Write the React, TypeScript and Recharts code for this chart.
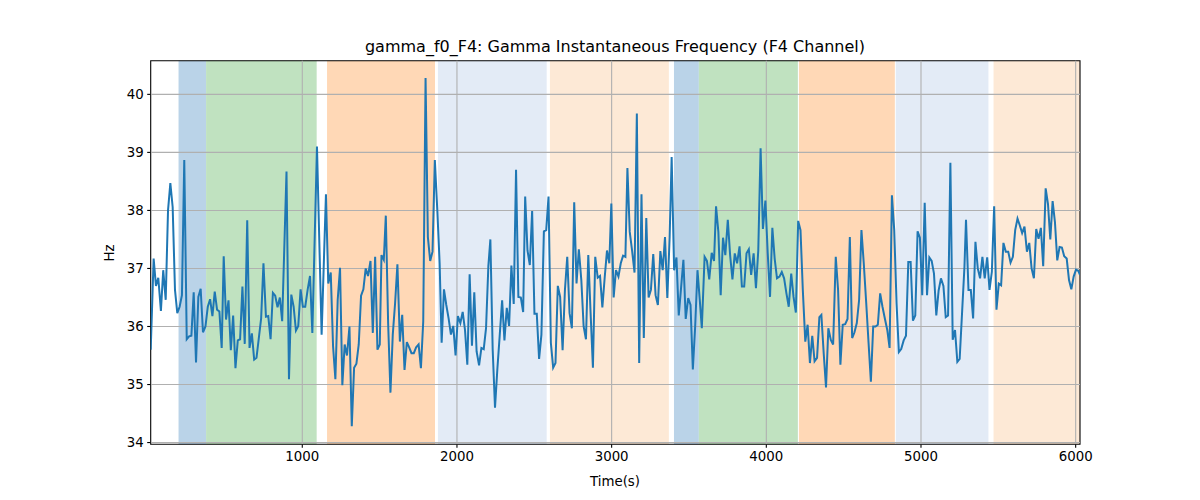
import React from 'react';
import { LineChart, Line, XAxis, YAxis, ReferenceArea, ReferenceLine } from 'recharts';

const times = [
  20, 39, 54, 69, 86, 101, 117, 132, 147, 162, 177, 192, 207, 222, 237, 253, 268, 283, 298, 313,
  328, 343, 358, 374, 389, 404, 419, 434, 449, 464, 479, 492, 507, 523, 538, 553, 568, 583, 598, 613,
  628, 644, 659, 674, 689, 704, 719, 734, 749, 765, 780, 795, 810, 825, 840, 855, 870, 898, 914, 929,
  944, 959, 974, 989, 1004, 1019, 1035, 1050, 1065, 1095, 1125, 1153, 1168, 1184, 1199, 1214, 1229, 1244, 1259, 1274,
  1289, 1305, 1320, 1335, 1350, 1365, 1380, 1395, 1410, 1425, 1441, 1456, 1471, 1486, 1501, 1512, 1527, 1540, 1555, 1570,
  1585, 1600, 1615, 1631, 1646, 1661, 1676, 1691, 1706, 1721, 1736, 1752, 1767, 1782, 1797, 1812, 1827, 1842, 1857, 1873,
  1888, 1901, 1916, 1931, 1946, 1961, 1976, 1991, 2006, 2022, 2037, 2052, 2067, 2082, 2097, 2112, 2127, 2143, 2158, 2173,
  2188, 2203, 2216, 2231, 2246, 2261, 2276, 2292, 2307, 2322, 2337, 2352, 2367, 2382, 2397, 2413, 2428, 2441, 2456, 2471,
  2486, 2501, 2516, 2531, 2546, 2562, 2577, 2592, 2607, 2622, 2637, 2652, 2667, 2683, 2698, 2713, 2728, 2743, 2758, 2773,
  2788, 2804, 2819, 2834, 2849, 2864, 2879, 2894, 2910, 2925, 2940, 2955, 2970, 2985, 2998, 3013, 3028, 3044, 3059, 3074,
  3089, 3102, 3117, 3132, 3148, 3163, 3178, 3193, 3208, 3224, 3239, 3254, 3269, 3284, 3299, 3315, 3330, 3345, 3360, 3375,
  3388, 3404, 3419, 3434, 3449, 3464, 3479, 3495, 3510, 3525, 3540, 3555, 3570, 3583, 3601, 3616, 3631, 3647, 3662, 3675,
  3690, 3705, 3720, 3735, 3751, 3766, 3781, 3796, 3811, 3827, 3842, 3857, 3872, 3887, 3902, 3918, 3933, 3948, 3963, 3978,
  3994, 4009, 4024, 4039, 4054, 4069, 4085, 4100, 4115, 4130, 4145, 4161, 4176, 4191, 4206, 4221, 4236, 4252, 4267, 4282,
  4297, 4312, 4328, 4343, 4356, 4371, 4386, 4401, 4417, 4432, 4449, 4464, 4479, 4494, 4510, 4525, 4540, 4555, 4570, 4585,
  4600, 4615, 4630, 4646, 4661, 4676, 4691, 4706, 4721, 4736, 4751, 4767, 4782, 4797, 4812, 4827, 4842, 4857, 4872, 4888,
  4903, 4918, 4933, 4948, 4963, 4978, 4993, 5008, 5024, 5039, 5054, 5069, 5084, 5099, 5114, 5129, 5145, 5160, 5175, 5190,
  5205, 5220, 5235, 5250, 5266, 5281, 5291, 5307, 5322, 5337, 5352, 5367, 5382, 5397, 5412, 5428, 5443, 5458, 5473, 5488,
  5503, 5518, 5533, 5548, 5564, 5579, 5594, 5609, 5624, 5639, 5654, 5669, 5685, 5700, 5715, 5730, 5745, 5760, 5775, 5790,
  5806, 5821, 5836, 5851, 5866, 5881, 5896, 5911, 5926, 5942, 5957, 5972, 5987, 6002, 6017, 6028,
];

const freqs = [
  35.60, 37.17, 36.70, 36.84, 36.27, 36.97, 36.46, 38.00, 38.47, 38.06, 36.63, 36.23, 36.34, 36.54, 38.87, 35.78, 35.83, 35.84, 36.59, 35.38,
  36.51, 36.65, 35.90, 36.00, 36.34, 36.47, 36.18, 36.60, 36.29, 36.26, 35.63, 37.21, 36.12, 36.45, 35.59, 36.19, 35.28, 35.76, 35.78, 36.69,
  35.70, 37.83, 35.63, 35.88, 35.43, 35.46, 35.80, 36.14, 37.09, 36.17, 36.18, 35.78, 36.58, 36.53, 36.33, 36.50, 36.09, 38.67, 35.09, 36.55,
  36.34, 35.93, 36.01, 36.64, 36.34, 36.34, 36.64, 36.87, 35.89, 39.10, 35.86, 38.28, 36.74, 36.93, 35.66, 35.09, 36.46, 37.01, 34.99, 35.69,
  35.50, 36.00, 34.28, 35.29, 35.36, 35.69, 36.53, 36.64, 37.00, 36.87, 37.13, 35.89, 37.20, 35.60, 35.69, 37.23, 37.15, 37.91, 36.06, 34.86,
  35.86, 36.40, 37.07, 35.74, 36.20, 35.25, 35.73, 35.64, 35.54, 35.54, 35.64, 35.69, 35.28, 36.09, 40.28, 37.54, 37.13, 37.29, 38.87, 38.00,
  37.09, 35.72, 36.64, 36.37, 36.14, 35.86, 36.01, 35.50, 36.18, 36.06, 36.25, 35.94, 35.34, 36.90, 35.67, 36.59, 35.57, 35.33, 35.63, 35.61,
  35.97, 37.04, 37.50, 35.60, 34.60, 35.26, 35.83, 36.45, 35.76, 36.32, 36.01, 37.05, 36.39, 38.70, 36.51, 36.50, 36.25, 38.24, 37.31, 37.06,
  37.99, 36.22, 36.22, 35.44, 35.86, 37.64, 37.66, 38.24, 35.72, 35.29, 35.37, 36.70, 36.51, 35.59, 36.63, 37.20, 36.23, 35.97, 38.14, 36.74,
  37.33, 36.80, 36.00, 35.78, 37.23, 36.23, 35.29, 37.20, 36.84, 36.87, 36.33, 36.84, 37.31, 37.09, 38.12, 36.50, 36.97, 36.86, 37.09, 37.22,
  37.20, 38.73, 37.63, 37.31, 36.93, 39.67, 35.37, 38.28, 35.80, 37.87, 36.50, 36.63, 37.25, 36.54, 36.37, 37.30, 36.97, 37.54, 36.49, 37.54,
  38.92, 36.97, 37.19, 36.19, 36.67, 37.15, 36.13, 36.49, 36.37, 35.26, 36.00, 36.97, 36.45, 35.97, 37.20, 37.13, 36.81, 37.27, 37.13, 38.07,
  37.63, 36.54, 37.53, 37.23, 37.84, 37.23, 36.81, 37.26, 37.09, 37.38, 36.69, 36.69, 37.26, 37.33, 36.89, 37.26, 36.66, 37.31, 39.07, 37.68,
  38.17, 37.27, 36.51, 37.70, 37.17, 36.83, 36.86, 36.94, 36.83, 36.57, 36.34, 36.91, 36.51, 36.24, 37.82, 37.66, 36.63, 35.74, 36.03, 35.37,
  35.84, 35.40, 35.46, 36.16, 36.20, 35.54, 34.95, 35.97, 35.77, 35.69, 37.20, 36.63, 35.34, 36.03, 36.04, 36.13, 37.54, 35.80, 35.90, 36.06,
  36.46, 37.66, 37.09, 36.40, 35.72, 35.05, 36.00, 36.00, 36.03, 36.57, 36.34, 36.13, 35.94, 35.63, 38.26, 37.66, 36.40, 35.56, 35.61, 35.76,
  35.84, 37.11, 37.11, 36.10, 36.19, 37.64, 37.53, 36.54, 38.13, 36.54, 37.19, 37.13, 36.91, 36.19, 36.62, 36.83, 36.70, 36.16, 36.19, 38.82,
  35.77, 35.94, 35.39, 35.44, 36.26, 37.03, 37.84, 36.63, 36.63, 36.14, 37.46, 37.00, 36.83, 37.20, 36.83, 37.19, 36.63, 36.94, 38.07, 36.29,
  36.74, 36.71, 37.44, 37.29, 37.29, 37.10, 37.20, 37.66, 37.86, 37.74, 37.61, 37.72, 37.29, 37.44, 37.00, 36.83, 37.68, 37.51, 37.70, 37.04,
  38.38, 38.11, 37.50, 38.16, 37.80, 37.14, 37.37, 37.36, 37.21, 37.17, 36.80, 36.64, 36.86, 36.98, 36.96, 36.89,
];

const spanStarts = [200, 378, 1160, 1877, 2601, 3403, 3564, 4211, 4837, 5469];
const spanEnds = [378, 1093, 1858, 2580, 3370, 3564, 4204, 4831, 5436, 6028];
const spanColors = ['#bad3e8', '#c0e2c0', '#ffd8b6', '#e3ebf6', '#fde9d6', '#bad3e8', '#c0e2c0', '#ffd8b6', '#e3ebf6', '#fde9d6'];

const xTicks = [1000, 2000, 3000, 4000, 5000, 6000];
const yTicks = [34, 35, 36, 37, 38, 39, 40];

const X_MIN = 20;
const X_MAX = 6028;
const Y_MIN = 33.97;
const Y_MAX = 40.58;

const data = times.map((t, i) => ({ t, v: freqs[i] }));

const FONT = 'DejaVu Sans, sans-serif';
const tickStyle = { fill: '#000', fontSize: 13.33, fontFamily: FONT };

export default function App() {
  const W = 1184;
  const H = 484;
  return (
    <div style={{ position: 'relative', width: W, height: H, fontFamily: FONT }}>
      <LineChart
        width={W}
        height={H}
        data={data}
        margin={{ top: 52.7, right: 112, bottom: 17.7, left: 82.7 }}
      >
        <XAxis
          dataKey="t"
          type="number"
          domain={[X_MIN, X_MAX]}
          allowDataOverflow
          ticks={xTicks}
          height={30}
          tick={tickStyle}
          tickSize={3.5}
          tickMargin={3.5}
          tickLine={{ stroke: '#000', strokeWidth: 1.1 }}
          axisLine={false}
        />
        <YAxis
          type="number"
          domain={[Y_MIN, Y_MAX]}
          allowDataOverflow
          ticks={yTicks}
          width={60}
          tick={tickStyle}
          tickSize={3.5}
          tickMargin={3.5}
          tickLine={{ stroke: '#000', strokeWidth: 1.1 }}
          axisLine={false}
        />
        {spanStarts.map((s, i) => (
          <ReferenceArea
            key={'span' + i}
            x1={s}
            x2={spanEnds[i]}
            y1={Y_MIN}
            y2={Y_MAX}
            fill={spanColors[i]}
            fillOpacity={1}
            stroke="none"
          />
        ))}
        {xTicks.map((x) => (
          <ReferenceLine key={'gx' + x} x={x} stroke="#b0b0b0" strokeWidth={1.1} />
        ))}
        {yTicks.map((y) => (
          <ReferenceLine key={'gy' + y} y={y} stroke="#b0b0b0" strokeWidth={1.1} />
        ))}
        <Line
          type="linear"
          dataKey="v"
          stroke="#1f77b4"
          strokeWidth={2}
          dot={false}
          activeDot={false}
          isAnimationActive={false}
        />
        <ReferenceArea
          x1={X_MIN}
          x2={X_MAX}
          y1={Y_MIN}
          y2={Y_MAX}
          fill="none"
          fillOpacity={0}
          stroke="#000"
          strokeWidth={1.1}
        />
      </LineChart>
      <div
        style={{
          position: 'absolute',
          left: 207,
          width: 800,
          top: 31,
          textAlign: 'center',
          fontSize: 16,
          lineHeight: '16px',
          color: '#000',
          whiteSpace: 'nowrap',
        }}
      >
        gamma_f0_F4: Gamma Instantaneous Frequency (F4 Channel)
      </div>
      <div
        style={{
          position: 'absolute',
          left: 507,
          width: 200,
          top: 467,
          textAlign: 'center',
          fontSize: 13.33,
          lineHeight: '14px',
          color: '#000',
        }}
      >
        Time(s)
      </div>
      <div
        style={{
          position: 'absolute',
          left: 102 - 50,
          width: 100,
          top: 245 - 7,
          textAlign: 'center',
          fontSize: 13.33,
          lineHeight: '14px',
          color: '#000',
          transform: 'rotate(-90deg)',
        }}
      >
        Hz
      </div>
    </div>
  );
}
